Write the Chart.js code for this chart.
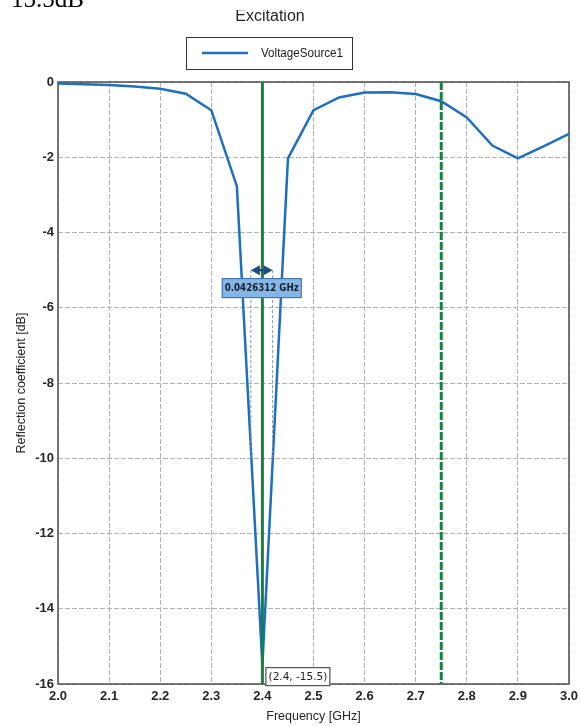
<!DOCTYPE html>
<html>
<head>
<meta charset="utf-8">
<script src="https://cdn.jsdelivr.net/npm/chart.js@4.4.1/dist/chart.umd.min.js"></script>
<style>
  html, body { margin: 0; padding: 0; background: #fff; }
  #wrap { width: 581px; height: 726px; }
</style>
</head>
<body>
<div id="wrap"><canvas id="customChart" width="581" height="726"></canvas></div>
<script>
// values
const freqGHz = [2.0, 2.05, 2.1, 2.15, 2.2, 2.25, 2.3, 2.35, 2.4, 2.45, 2.5,
                 2.55, 2.6, 2.65, 2.7, 2.75, 2.8, 2.85, 2.9, 2.95, 3.0];
const reflectionDb = [-0.04, -0.06, -0.08, -0.12, -0.18, -0.31, -0.75, -2.77, -15.5, -2.03, -0.75,
                      -0.41, -0.28, -0.27, -0.32, -0.51, -0.94, -1.69, -2.03, -1.71, -1.38];
const markerSolid = 2.4;
const markerDashed = 2.75;
const bandwidthEdges = [2.3774, 2.4200];
const bandwidthLevels = [-5, -10]; // arrow level, bottom of the guide lines
const bandwidthText = '0.0426312 GHz';
const tipPoint = [2.4, -15.5];
const xRange = [2.0, 3.0, 0.1];
const yRange = [-16, 0, 2];

const blue = '#1f6fc0';
const green = '#13833f';

const vline = (x) => [{ x: x, y: yRange[1] }, { x: x, y: yRange[0] }];

const decorations = {
  id: 'decorations',
  beforeDatasetsDraw(chart) {
    const { ctx, chartArea: a } = chart;
    ctx.save();
    ctx.strokeStyle = '#4d4d4d';
    ctx.lineWidth = 1.5;
    ctx.strokeRect(a.left, a.top, a.right - a.left, a.bottom - a.top);
    ctx.restore();
  },
  afterDatasetsDraw(chart) {
    const { ctx, scales: { x, y } } = chart;
    ctx.save();
    // bandwidth arrow
    const x1 = x.getPixelForValue(bandwidthEdges[0]);
    const x2 = x.getPixelForValue(bandwidthEdges[1]);
    const ay = y.getPixelForValue(bandwidthLevels[0]);
    ctx.fillStyle = '#1d4d80';
    ctx.strokeStyle = '#1d4d80';
    ctx.lineWidth = 2.5;
    ctx.beginPath(); ctx.moveTo(x1 + 6, ay); ctx.lineTo(x2 - 6, ay); ctx.stroke();
    ctx.beginPath(); ctx.moveTo(x1, ay); ctx.lineTo(x1 + 9, ay - 5); ctx.lineTo(x1 + 9, ay + 5); ctx.closePath(); ctx.fill();
    ctx.beginPath(); ctx.moveTo(x2, ay); ctx.lineTo(x2 - 9, ay - 5); ctx.lineTo(x2 - 9, ay + 5); ctx.closePath(); ctx.fill();

    // bandwidth label
    const mid = (x1 + x2) / 2;
    ctx.font = 'bold 10px "DejaVu Sans"';
    const bw = 80, bh = 20;
    ctx.fillStyle = '#86b6e6';
    ctx.fillRect(mid - bw / 2, ay + 8, bw, bh);
    ctx.strokeStyle = '#3a6ea5';
    ctx.lineWidth = 1;
    ctx.strokeRect(mid - bw / 2 + 0.5, ay + 8.5, bw - 1, bh - 1);
    ctx.fillStyle = '#14202e';
    ctx.textAlign = 'center';
    ctx.textBaseline = 'middle';
    ctx.fillText(bandwidthText, mid, ay + 8 + bh / 2 + 0.5, 74);

    // data tip
    const px = x.getPixelForValue(tipPoint[0]);
    const py = y.getPixelForValue(tipPoint[1]);
    ctx.font = '10.5px "DejaVu Sans"';
    ctx.fillStyle = '#fff';
    ctx.fillRect(px + 3, py + 2, 65, 19);
    ctx.strokeStyle = '#333';
    ctx.strokeRect(px + 3.5, py + 2.5, 64, 18);
    ctx.fillStyle = '#222';
    ctx.textAlign = 'center';
    ctx.fillText('(' + tipPoint[0] + ', ' + tipPoint[1] + ')', px + 35.5, py + 12, 60);
    ctx.restore();
  },
  afterDraw(chart) {
    const { ctx } = chart;
    const ds = chart.data.datasets[0];
    ctx.save();
    // title (top partly hidden)
    ctx.fillStyle = '#262626';
    ctx.font = '16px "Liberation Sans", Arial, sans-serif';
    ctx.textAlign = 'center';
    ctx.textBaseline = 'alphabetic';
    ctx.fillText('Excitation', 270, 21);
    ctx.fillStyle = '#fff';
    ctx.fillRect(0, 0, chart.width, 10);
    ctx.fillStyle = '#000';
    ctx.font = '25px "Liberation Serif", serif';
    ctx.textAlign = 'left';
    ctx.fillText('15.5dB', 11, 7);

    // legend
    ctx.strokeStyle = '#333';
    ctx.lineWidth = 1;
    ctx.strokeRect(186.5, 37.5, 166, 32);
    ctx.strokeStyle = ds.borderColor;
    ctx.lineWidth = 2.5;
    ctx.beginPath(); ctx.moveTo(202, 53); ctx.lineTo(248, 53); ctx.stroke();
    ctx.fillStyle = '#1a1a1a';
    ctx.font = '12.5px "Liberation Sans", Arial, sans-serif';
    ctx.textBaseline = 'middle';
    ctx.fillText(ds.label, 261, 53.5, 82);
    ctx.restore();
  }
};

const ctx = document.getElementById('customChart').getContext('2d');
new Chart(ctx, {
  type: 'scatter',
  data: {
    datasets: [
      {
        label: 'VoltageSource1',
        data: freqGHz.map((f, i) => ({ x: f, y: reflectionDb[i] })),
        showLine: true,
        borderColor: blue,
        borderWidth: 2.5,
        pointRadius: 0,
        order: 2,
      },
      {
        label: 'marker',
        data: vline(markerSolid),
        showLine: true,
        borderColor: green,
        borderWidth: 3,
        pointRadius: 0,
        order: 0,
      },
      {
        label: 'marker2',
        data: vline(markerDashed),
        showLine: true,
        borderColor: green,
        borderWidth: 3,
        borderDash: [8, 2],
        pointRadius: 0,
        order: 0,
      },
      ...bandwidthEdges.map(f => ({
        label: 'bw',
        data: [{ x: f, y: bandwidthLevels[0] }, { x: f, y: bandwidthLevels[1] }],
        showLine: true,
        borderColor: '#8595a8',
        borderWidth: 1,
        borderDash: [3, 2],
        pointRadius: 0,
        order: 1,
      })),
    ],
  },
  options: {
    responsive: false,
    animation: false,
    layout: { padding: { left: 0, right: 12, top: 82, bottom: 0 } },
    plugins: {
      legend: { display: false },
      title: { display: false },
      tooltip: { enabled: false },
    },
    scales: {
      x: {
        type: 'linear',
        min: xRange[0],
        max: xRange[1],
        afterFit: (s) => { s.height = 42; s.paddingLeft = 0; s.paddingRight = 0; },
        ticks: {
          stepSize: xRange[2],
          padding: 5,
          color: '#262626',
          font: { family: '"Liberation Sans", Arial, sans-serif', size: 13, weight: 'bold' },
          callback: (v) => v.toFixed(1),
          maxRotation: 0,
        },
        grid: { color: '#b3b3b3', drawTicks: false, lineWidth: 1 },
        border: { display: false, dash: [5, 2] },
        title: {
          display: true,
          text: 'Frequency [GHz]',
          color: '#262626',
          padding: { top: 0, bottom: 1.5 },
          font: { family: '"Liberation Sans", Arial, sans-serif', size: 12.5 },
        },
      },
      y: {
        min: yRange[0],
        max: yRange[1],
        afterFit: (s) => { s.width = 58; s.paddingTop = 0; s.paddingBottom = 0; },
        ticks: {
          stepSize: yRange[2],
          padding: 4,
          color: '#262626',
          font: { family: '"Liberation Sans", Arial, sans-serif', size: 13, weight: 'bold' },
        },
        grid: { color: '#b3b3b3', drawTicks: false, lineWidth: 1 },
        border: { display: false, dash: [5, 2] },
        title: {
          display: true,
          text: 'Reflection coefficient [dB]',
          color: '#262626',
          padding: { top: 14, bottom: 0 },
          font: { family: '"Liberation Sans", Arial, sans-serif', size: 12.5 },
        },
      },
    },
  },
  plugins: [decorations],
});
</script>
</body>
</html>
